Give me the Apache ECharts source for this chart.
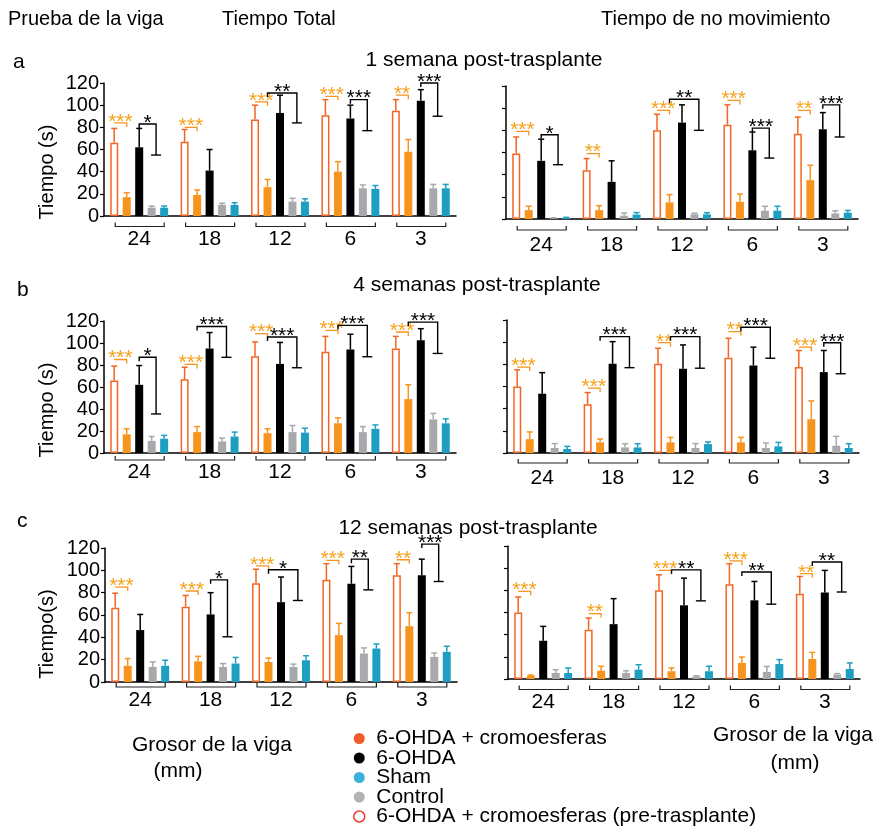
<!DOCTYPE html>
<html><head><meta charset="utf-8">
<script src="https://cdn.jsdelivr.net/npm/echarts/dist/echarts.min.js"></script>
<style>html,body{margin:0;padding:0;background:#fff}#c{width:880px;height:833px}</style>
</head><body><div id="c"></div>
<script>
const categories = ['24','18','12','6','3'];

// a: 1 semana, Tiempo total
const a1Pre=[66,67,87,91,95],        a1PreSem=[13,11,13,14,10];
const a1Crom=[17,19,26,40,58],       a1CromSem=[4,4.5,7,9,11];
const a1Ohda=[62,41,93,88,104],      a1OhdaSem=[17,19,16,12,10];
const a1Ctrl=[7.5,10,13,25,25],      a1CtrlSem=[1.5,1.5,3,3,3.5];
const a1Sham=[7.5,10,13,24.5,25],    a1ShamSem=[1.5,2,2.5,3,3.5];
const a1OStars=['***','***','***','***','**'], a1OY=[84,80,103,108,109];
const a1BStars=['*','','**','***','***'], a1BTop=[83,0,111,105,120], a1BBot=[55,0,84,77,90], a1BFrom=[2,2,1,2,2];

// a: 1 semana, Tiempo de no movimiento
const a2Pre=[59,44,80,85,77],        a2PreSem=[15,10.5,14.5,18,15];
const a2Crom=[8,8,15,15.5,35],       a2CromSem=[3.5,4,7,7,13.5];
const a2Ohda=[52.5,33.5,87,62,81],   a2OhdaSem=[19.5,19,16,16.5,15];
const a2Ctrl=[0.6,3,4.2,7.5,5],      a2CtrlSem=[0.5,2.4,1,4,2.4];
const a2Sham=[1,4,4.2,7.5,5.7],      a2ShamSem=[0.5,1.8,1.5,4,2];
const a2OStars=['***','**','***','***','**'], a2OY=[79,59,98,107,98];
const a2BStars=['*','','**','***','***'], a2BTop=[76,0,108,82,103], a2BBot=[49,0,80,55,74], a2BFrom=[2,2,1,2,2];

// b: 4 semanas, Tiempo total
const b1Pre=[66,67,88,92,95],        b1PreSem=[13,11,13,14,11];
const b1Crom=[17,19,18,27,49],       b1CromSem=[5,5,4,5,13];
const b1Ohda=[62,95,81,94,102.5],    b1OhdaSem=[17.5,14.5,19.5,14,10.5];
const b1Ctrl=[11,10.5,19,19,30.5],   b1CtrlSem=[4,3,6,5,5.5];
const b1Sham=[13,15,18.5,22,27],     b1ShamSem=[3,4,4,3.5,4];
const b1OStars=['***','***','***','***','***'], b1OY=[85,80.5,108.5,111.5,110];
const b1BStars=['*','***','***','***','***'], b1BTop=[87,115,105.5,116,119], b1BBot=[35.5,87,77.5,87.5,90.5], b1BFrom=[2,1,1,1,1];

// b: 4 semanas, Tiempo de no movimiento
const b2Pre=[60,44,80.5,86,77.5],    b2PreSem=[15,10.5,14,17.5,15];
const b2Crom=[12.5,9.6,9.6,9.6,30.5],b2CromSem=[6.5,3,4.5,4.5,16.5];
const b2Ohda=[53.5,80.5,76,79,73],   b2OhdaSem=[19,20,21.5,16.5,19.5];
const b2Ctrl=[4.5,5,4.5,4.5,6.6],    b2CtrlSem=[4,3.4,4,4.5,8.4];
const b2Sham=[3.6,5,8,6,4.5],        b2ShamSem=[2.4,3.4,2,3.6,3.9];
const b2OStars=['***','***','**','**','***'], b2OY=[77.5,58.5,99.5,109.5,95.5];
const b2BStars=['','***','***','***','***'], b2BTop=[0,105,105,113.5,99.5], b2BBot=[0,77,76.5,85.5,71.5], b2BFrom=[2,1,1,1,2];

// c: 12 semanas, Tiempo total
const c1Pre=[66.5,67.5,88.5,91.5,95.5], c1PreSem=[13,10,12.5,14.5,10.5];
const c1Crom=[14.5,18.5,18,42,50],   c1CromSem=[6.5,4.5,3.5,10.5,12];
const c1Ohda=[46.5,60.5,71.5,88,95.5], c1OhdaSem=[14,19.5,22.5,15.5,14.5];
const c1Ctrl=[13.5,13.5,13.5,25.5,22.5], c1CtrlSem=[4.5,3,2.5,5,3.5];
const c1Sham=[14.5,16.5,19.5,30,27], c1ShamSem=[5,5.5,4,4,5];
const c1OStars=['***','***','***','***','**'], c1OY=[85,81.5,104,109,109.5];
const c1BStars=['','*','*','**','***'], c1BTop=[0,91.5,100.5,110,123.5], c1BBot=[0,40.5,73,82.5,90], c1BFrom=[2,2,1,2,2];

// c: 12 semanas, Tiempo de no movimiento
const c2Pre=[60,44.5,80,85.5,77],    c2PreSem=[14,10.5,14,18.5,15.5];
const c2Crom=[3,7.5,7,14.5,18],      c2CromSem=[0.6,4,3,5.3,6];
const c2Ohda=[34.5,49.5,66.5,71,78], c2OhdaSem=[13,23,24.5,17,20];
const c2Ctrl=[5.4,5.4,2.4,6.3,3.9],  c2CtrlSem=[3,2,0.5,5,1];
const c2Sham=[5.4,8.4,7,13.5,9],     c2ShamSem=[4.5,4.5,4.5,4,5.5];
const c2OStars=['***','**','***','***','**'], c2OY=[79,59,98,106.5,95];
const c2BStars=['','','**','**','**'], c2BTop=[0,0,98.5,96.5,105.5], c2BBot=[0,0,70.5,67.5,78.5], c2BFrom=[2,2,1,1,1];

const yTicks = [0,20,40,60,80,100,120];

const FONT = '"Liberation Sans", Arial, Helvetica, sans-serif';
const names = ['6-OHDA + cromoesferas (pre-trasplante)','6-OHDA + cromoesferas','6-OHDA','Control','Sham'];
const colPre='#F26522', colCrom='#F7941D', colOhda='#000000', colCtrl='#A7A9AC', colSham='#1E9FC2';
const errColors=[colPre,colCrom,colOhda,colCtrl,colSham];
const starOrange='#F7A21B';
const BW=8, STEP=12.5;

const charts = [
  {pre:a1Pre,preS:a1PreSem,crom:a1Crom,cromS:a1CromSem,ohda:a1Ohda,ohdaS:a1OhdaSem,ctrl:a1Ctrl,ctrlS:a1CtrlSem,sham:a1Sham,shamS:a1ShamSem,oSt:a1OStars,oY:a1OY,bSt:a1BStars,bT:a1BTop,bB:a1BBot,bF:a1BFrom},
  {pre:a2Pre,preS:a2PreSem,crom:a2Crom,cromS:a2CromSem,ohda:a2Ohda,ohdaS:a2OhdaSem,ctrl:a2Ctrl,ctrlS:a2CtrlSem,sham:a2Sham,shamS:a2ShamSem,oSt:a2OStars,oY:a2OY,bSt:a2BStars,bT:a2BTop,bB:a2BBot,bF:a2BFrom},
  {pre:b1Pre,preS:b1PreSem,crom:b1Crom,cromS:b1CromSem,ohda:b1Ohda,ohdaS:b1OhdaSem,ctrl:b1Ctrl,ctrlS:b1CtrlSem,sham:b1Sham,shamS:b1ShamSem,oSt:b1OStars,oY:b1OY,bSt:b1BStars,bT:b1BTop,bB:b1BBot,bF:b1BFrom},
  {pre:b2Pre,preS:b2PreSem,crom:b2Crom,cromS:b2CromSem,ohda:b2Ohda,ohdaS:b2OhdaSem,ctrl:b2Ctrl,ctrlS:b2CtrlSem,sham:b2Sham,shamS:b2ShamSem,oSt:b2OStars,oY:b2OY,bSt:b2BStars,bT:b2BTop,bB:b2BBot,bF:b2BFrom},
  {pre:c1Pre,preS:c1PreSem,crom:c1Crom,cromS:c1CromSem,ohda:c1Ohda,ohdaS:c1OhdaSem,ctrl:c1Ctrl,ctrlS:c1CtrlSem,sham:c1Sham,shamS:c1ShamSem,oSt:c1OStars,oY:c1OY,bSt:c1BStars,bT:c1BTop,bB:c1BBot,bF:c1BFrom},
  {pre:c2Pre,preS:c2PreSem,crom:c2Crom,cromS:c2CromSem,ohda:c2Ohda,ohdaS:c2OhdaSem,ctrl:c2Ctrl,ctrlS:c2CtrlSem,sham:c2Sham,shamS:c2ShamSem,oSt:c2OStars,oY:c2OY,bSt:c2BStars,bT:c2BTop,bB:c2BBot,bF:c2BFrom}
];

const layouts = [
  {left:104, top:83,  height:133, lm:13, bo:10.5, labels:true},
  {left:506, top:86,  height:133, lm:16, bo:11,   labels:false},
  {left:104, top:321, height:132, lm:9,  bo:7,    labels:true},
  {left:507, top:320, height:133, lm:15, bo:10,   labels:false},
  {left:105, top:548, height:134, lm:8,  bo:5,    labels:true},
  {left:508, top:546, height:133, lm:13, bo:10.5, labels:false}
];

const grid=[], xAxis=[], yAxis=[], series=[];
charts.forEach((d,i)=>{
  const L=layouts[i];
  grid.push({left:L.left, top:L.top, width:352, height:L.height});
  xAxis.push({type:'category', gridIndex:i, data:categories, boundaryGap:true,
    axisLine:{show:true, lineStyle:{color:'#000', width:1.5}}, axisTick:{show:false},
    axisLabel:{show:true, color:'#000', fontSize:21, fontFamily:FONT, margin:L.lm}});
  yAxis.push({type:'value', gridIndex:i, min:yTicks[0], max:yTicks[yTicks.length-1], interval:20,
    axisLine:{show:true, lineStyle:{color:'#000', width:1.5}},
    axisTick:{show:true, inside:false, length:4, lineStyle:{color:'#000', width:1.2}},
    axisLabel:{show:L.labels, color:'#000', fontSize:20, fontFamily:FONT, margin:5},
    splitLine:{show:false}});
  const vals=[d.pre,d.crom,d.ohda,d.ctrl,d.sham];
  const sems=[d.preS,d.cromS,d.ohdaS,d.ctrlS,d.shamS];
  vals.forEach((v,k)=>{
    const s={type:'bar', name:names[k], xAxisIndex:i, yAxisIndex:i, data:v, barWidth:BW, barGap:'56%', silent:true, z:2};
    if(k===0){ s.itemStyle={color:'#fff', borderColor:colPre, borderWidth:1.5}; }
    else s.itemStyle={color:[null,colCrom,colOhda,colCtrl,colSham][k]};
    series.push(s);
  });
  // error bars
  const errData=[];
  vals.forEach((v,k)=>v.forEach((m,g)=>errData.push([g,k,m,sems[k][g]])));
  series.push({type:'custom', xAxisIndex:i, yAxisIndex:i, data:errData, silent:true, z:3,
    renderItem:(p,api)=>{
      const g=api.value(0),k=api.value(1),m=api.value(2),e=api.value(3);
      const p0=api.coord([g,m]), p1=api.coord([g,m+e]);
      const x=p0[0]+(k-2)*STEP;
      const st={stroke:errColors[k], lineWidth:1.5};
      return {type:'group', children:[
        {type:'line', shape:{x1:x,y1:p0[1],x2:x,y2:p1[1]}, style:st},
        {type:'line', shape:{x1:x-3,y1:p1[1],x2:x+3,y2:p1[1]}, style:st}]};
    }});
  // significance brackets
  const sigData=[], sigLab=[];
  for(let g=0;g<5;g++){
    if(d.oSt[g]){ sigData.push([g,0,d.oY[g],0,0]); sigLab.push(d.oSt[g]); }
    if(d.bSt[g]){ sigData.push([g,1,d.bT[g],d.bB[g],d.bF[g]]); sigLab.push(d.bSt[g]); }
  }
  series.push({type:'custom', xAxisIndex:i, yAxisIndex:i, data:sigData, silent:true, z:4, clip:false,
    renderItem:(p,api)=>{
      const g=api.value(0),kind=api.value(1),t=api.value(2),b=api.value(3),f=api.value(4);
      const pt=api.coord([g,t]); const c=pt[0];
      const lab=sigLab[p.dataIndex];
      if(kind===0){
        const xL=c-2*STEP, xR=c-STEP, y=pt[1];
        return {type:'group', children:[
          {type:'polyline', shape:{points:[[xL,y],[xR,y],[xR,y+4]]}, style:{stroke:colCrom, lineWidth:1.3, fill:null}},
          {type:'text', x:(xL+xR)/2, y:y-1, style:{text:lab, fill:starOrange, font:'21px '+FONT, align:'center', verticalAlign:'middle'}}]};
      } else {
        const pb=api.coord([g,b]);
        const xL=c+(f-2)*STEP, xR=c+1.35*STEP, y=pt[1], yb=pb[1];
        return {type:'group', children:[
          {type:'polyline', shape:{points:[[xL,y+4],[xL,y],[xR,y],[xR,yb]]}, style:{stroke:'#000', lineWidth:1.4, fill:null}},
          {type:'line', shape:{x1:xR-5,y1:yb,x2:xR+5,y2:yb}, style:{stroke:'#000', lineWidth:1.4}},
          {type:'text', x:(xL+xR)/2, y:y-1, style:{text:lab, fill:'#000', font:'21px '+FONT, align:'center', verticalAlign:'middle'}}]};
      }
    }});
  // category brackets under axis
  series.push({type:'custom', xAxisIndex:i, yAxisIndex:i, data:categories.map((c,g)=>[g,0]), silent:true, z:4, clip:false,
    renderItem:(p,api)=>{
      const q=api.coord([api.value(0),0]); const y=q[1]+L.bo;
      return {type:'polyline', shape:{points:[[q[0]-24,y-4],[q[0]-24,y],[q[0]+25,y],[q[0]+25,y-4]]}, style:{stroke:'#222', lineWidth:1.2, fill:null}};
    }});
});

const txt=(x,y,text,size,extra)=>Object.assign({type:'text', x:x, y:y, style:Object.assign({text:text, font:size+'px '+FONT, fill:'#000', align:'left', verticalAlign:'middle'}, extra||{})});
const graphic=[
  txt(8,19,'Prueba de la viga',20),
  txt(222,19,'Tiempo Total',20),
  txt(601,19,'Tiempo de no movimiento',20),
  txt(13,62,'a',21), txt(17,290,'b',21), txt(17,521,'c',21),
  txt(484,60,'1 semana post-trasplante',21,{align:'center'}),
  txt(477,285,'4 semanas post-trasplante',21,{align:'center'}),
  txt(468,528,'12 semanas post-trasplante',21,{align:'center'}),
  Object.assign(txt(47,172,'Tiempo (s)',20,{align:'center'}),{rotation:Math.PI/2}),
  Object.assign(txt(47,410,'Tiempo (s)',20,{align:'center'}),{rotation:Math.PI/2}),
  Object.assign(txt(47,634,'Tiempo(s)',20,{align:'center'}),{rotation:Math.PI/2}),
  txt(132,745,'Grosor de la viga',21),
  txt(178,771,'(mm)',21,{align:'center'}),
  txt(713,735,'Grosor de la viga',21),
  txt(795,763,'(mm)',21,{align:'center'})
];

const chart=echarts.init(document.getElementById('c'),null,{renderer:'canvas'});
chart.setOption({
  animation:false,
  textStyle:{fontFamily:FONT},
  grid:grid, xAxis:xAxis, yAxis:yAxis, series:series, graphic:graphic,
  legend:{orient:'vertical', left:353, top:728, height:160, itemGap:-1.5, itemWidth:24, itemHeight:11, symbolKeepAspect:true,
    selectedMode:false, padding:0, textStyle:{fontSize:21, color:'#000', fontFamily:FONT, lineHeight:20},
    data:[
      {name:'6-OHDA + cromoesferas', icon:'circle', itemStyle:{color:'#F15A29'}},
      {name:'6-OHDA', icon:'circle', itemStyle:{color:'#000'}},
      {name:'Sham', icon:'circle', itemStyle:{color:'#3BB0D8'}},
      {name:'Control', icon:'circle', itemStyle:{color:'#B3B3B3'}},
      {name:'6-OHDA + cromoesferas (pre-trasplante)', icon:'circle', itemStyle:{color:'#fff', borderColor:'#EE3B2F', borderWidth:1.5}}
    ]}
});
</script></body></html>
